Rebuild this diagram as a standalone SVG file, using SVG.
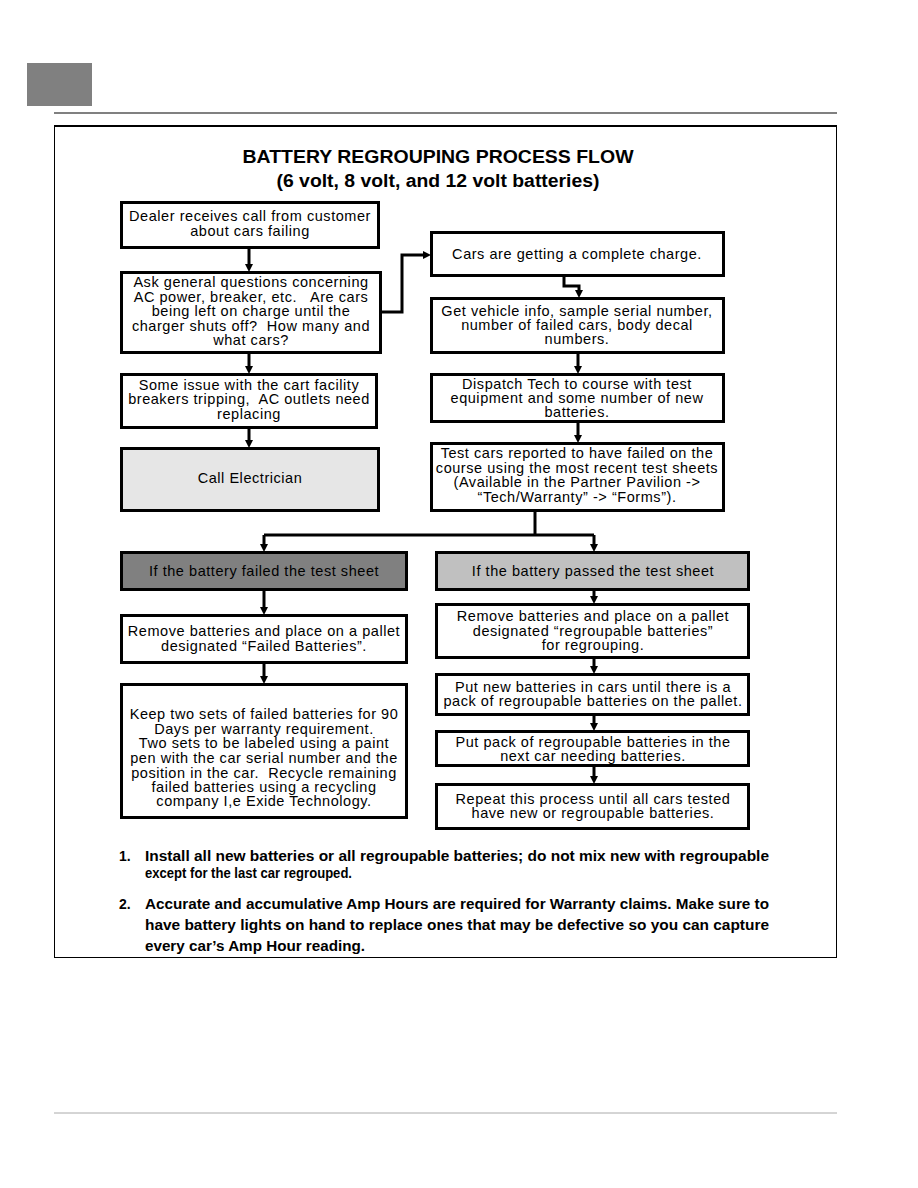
<svg xmlns="http://www.w3.org/2000/svg" width="918" height="1188" viewBox="0 0 918 1188">
<style>
.box{fill:#fff;stroke:#000;stroke-width:3}
.t{font-family:"Liberation Sans",Arial,sans-serif;font-size:14.5px;letter-spacing:0.55px;fill:#000;text-anchor:middle;white-space:pre}
.n{font-family:"Liberation Sans",Arial,sans-serif;font-size:14px;font-weight:bold;fill:#000}
.c{fill:none;stroke:#000;stroke-width:3}
</style>
<defs>
<marker id="ah" markerWidth="8" markerHeight="8" refX="4" refY="4" orient="auto" markerUnits="userSpaceOnUse">
<path d="M0,0 L8,4 L0,8 Z" fill="#000"/>
</marker>
</defs>
<rect width="918" height="1188" fill="#fff"/>
<rect x="27" y="63" width="65" height="43" fill="#808080"/>
<line x1="54" y1="113" x2="837" y2="113" stroke="#808080" stroke-width="2"/>
<rect x="54.5" y="125.5" width="782" height="832" fill="none" stroke="#000" stroke-width="1"/>
<line x1="54" y1="126" x2="837" y2="126" stroke="#000" stroke-width="2"/>
<line x1="54" y1="1113" x2="837" y2="1113" stroke="#aaa" stroke-width="1"/>

<g id="title">
<text x="438" y="163" font-family="'Liberation Sans',Arial,sans-serif" font-size="18" font-weight="bold" text-anchor="middle" textLength="391" lengthAdjust="spacingAndGlyphs">BATTERY REGROUPING PROCESS FLOW</text>
<text x="438" y="187" font-family="'Liberation Sans',Arial,sans-serif" font-size="18" font-weight="bold" text-anchor="middle" textLength="323" lengthAdjust="spacingAndGlyphs">(6 volt, 8 volt, and 12 volt batteries)</text>
</g>

<g id="connectors">
<path class="c" d="M249,248 V268" marker-end="url(#ah)"/>
<path class="c" d="M249,353 V370" marker-end="url(#ah)"/>
<path class="c" d="M249,428 V444" marker-end="url(#ah)"/>
<path class="c" d="M381,312 H402 V255 H427" marker-end="url(#ah)"/>
<path class="c" d="M564,276 V286 H579 V294" marker-end="url(#ah)"/>
<path class="c" d="M578,353 V370" marker-end="url(#ah)"/>
<path class="c" d="M578,422 V439" marker-end="url(#ah)"/>
<path class="c" d="M535,511 V535"/>
<path class="c" d="M264,535 H594"/>
<path class="c" d="M264,535 V548" marker-end="url(#ah)"/>
<path class="c" d="M594,535 V548" marker-end="url(#ah)"/>
<path class="c" d="M264,590 V611" marker-end="url(#ah)"/>
<path class="c" d="M594,590 V600" marker-end="url(#ah)"/>
<path class="c" d="M264,663 V680" marker-end="url(#ah)"/>
<path class="c" d="M594,658 V670" marker-end="url(#ah)"/>
<path class="c" d="M594,715 V727" marker-end="url(#ah)"/>
<path class="c" d="M594,766 V780" marker-end="url(#ah)"/>
</g>

<g id="n1">
<rect class="box" x="121.5" y="202.5" width="257" height="45"/>
<text class="t" x="250" y="221">Dealer receives call from customer</text>
<text class="t" x="250" y="236">about cars failing</text>
</g>
<g id="n2">
<rect class="box" x="121.5" y="272.5" width="259" height="80"/>
<text class="t" x="251" y="287">Ask general questions concerning</text>
<text class="t" x="251" y="302">AC power, breaker, etc.   Are cars</text>
<text class="t" x="251" y="316">being left on charge until the</text>
<text class="t" x="251" y="331">charger shuts off?  How many and</text>
<text class="t" x="251" y="345">what cars?</text>
</g>
<g id="n3">
<rect class="box" x="121.5" y="374.5" width="255" height="53"/>
<text class="t" x="249" y="390">Some issue with the cart facility</text>
<text class="t" x="249" y="404">breakers tripping,  AC outlets need</text>
<text class="t" x="249" y="419">replacing</text>
</g>
<g id="n4">
<rect class="box" x="121.5" y="448.5" width="257" height="62" style="fill:#e6e6e6"/>
<text class="t" x="250" y="483">Call Electrician</text>
</g>
<g id="n5">
<rect class="box" x="431.5" y="232.5" width="292" height="43"/>
<text class="t" x="577" y="259">Cars are getting a complete charge.</text>
</g>
<g id="n6">
<rect class="box" x="431.5" y="298.5" width="292" height="54"/>
<text class="t" x="577" y="316">Get vehicle info, sample serial number,</text>
<text class="t" x="577" y="330">number of failed cars, body decal</text>
<text class="t" x="577" y="344">numbers.</text>
</g>
<g id="n7">
<rect class="box" x="431.5" y="374.5" width="292" height="47"/>
<text class="t" x="577" y="389">Dispatch Tech to course with test</text>
<text class="t" x="577" y="403">equipment and some number of new</text>
<text class="t" x="577" y="417">batteries.</text>
</g>
<g id="n8">
<rect class="box" x="431.5" y="443.5" width="292" height="67"/>
<text class="t" x="577" y="458">Test cars reported to have failed on the</text>
<text class="t" x="577" y="473">course using the most recent test sheets</text>
<text class="t" x="577" y="487">(Available in the Partner Pavilion -&gt;</text>
<text class="t" x="577" y="502">“Tech/Warranty” -&gt; “Forms”).</text>
</g>
<g id="n9">
<rect class="box" x="121.5" y="552.5" width="285" height="37" style="fill:#808080"/>
<text class="t" x="264" y="576">If the battery failed the test sheet</text>
</g>
<g id="n10">
<rect class="box" x="436.5" y="552.5" width="312" height="37" style="fill:#c0c0c0"/>
<text class="t" x="593" y="576">If the battery passed the test sheet</text>
</g>
<g id="n11">
<rect class="box" x="121.5" y="615.5" width="285" height="47"/>
<text class="t" x="264" y="636">Remove batteries and place on a pallet</text>
<text class="t" x="264" y="651">designated “Failed Batteries”.</text>
</g>
<g id="n12">
<rect class="box" x="436.5" y="604.5" width="312" height="53"/>
<text class="t" x="593" y="621">Remove batteries and place on a pallet</text>
<text class="t" x="593" y="636">designated “regroupable batteries”</text>
<text class="t" x="593" y="650">for regrouping.</text>
</g>
<g id="n13">
<rect class="box" x="121.5" y="684.5" width="285" height="133"/>
<text class="t" x="264" y="719">Keep two sets of failed batteries for 90</text>
<text class="t" x="264" y="734">Days per warranty requirement.</text>
<text class="t" x="264" y="748">Two sets to be labeled using a paint</text>
<text class="t" x="264" y="763">pen with the car serial number and the</text>
<text class="t" x="264" y="778">position in the car.  Recycle remaining</text>
<text class="t" x="264" y="792">failed batteries using a recycling</text>
<text class="t" x="264" y="806">company I,e Exide Technology.</text>
</g>
<g id="n14">
<rect class="box" x="436.5" y="674.5" width="312" height="40"/>
<text class="t" x="593" y="692">Put new batteries in cars until there is a</text>
<text class="t" x="593" y="706">pack of regroupable batteries on the pallet.</text>
</g>
<g id="n15">
<rect class="box" x="436.5" y="731.5" width="312" height="34"/>
<text class="t" x="593" y="747">Put pack of regroupable batteries in the</text>
<text class="t" x="593" y="761">next car needing batteries.</text>
</g>
<g id="n16">
<rect class="box" x="436.5" y="784.5" width="312" height="44"/>
<text class="t" x="593" y="804">Repeat this process until all cars tested</text>
<text class="t" x="593" y="818">have new or regroupable batteries.</text>
</g>

<g id="notes">
<text class="n" x="119" y="861">1.</text>
<text class="n" x="145" y="861" textLength="624" lengthAdjust="spacingAndGlyphs">Install all new batteries or all regroupable batteries; do not mix new with regroupable</text>
<text class="n" x="145" y="878" textLength="207" lengthAdjust="spacingAndGlyphs">except for the last car regrouped.</text>
<text class="n" x="119" y="909">2.</text>
<text class="n" x="145" y="909" textLength="624" lengthAdjust="spacingAndGlyphs">Accurate and accumulative Amp Hours are required for Warranty claims. Make sure to</text>
<text class="n" x="145" y="930" textLength="624" lengthAdjust="spacingAndGlyphs">have battery lights on hand to replace ones that may be defective so you can capture</text>
<text class="n" x="145" y="951" textLength="220" lengthAdjust="spacingAndGlyphs">every car’s Amp Hour reading.</text>
</g>
</svg>
